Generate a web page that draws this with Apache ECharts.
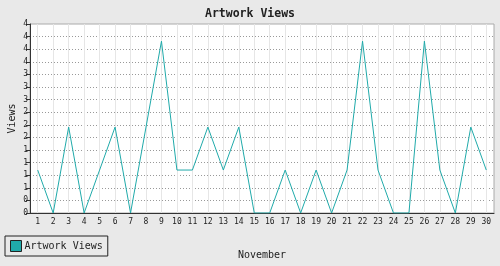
<!DOCTYPE html>
<html><head><meta charset="utf-8">
<script src="https://cdn.jsdelivr.net/npm/echarts@6/dist/echarts.min.js"></script>
<style>html,body{margin:0;padding:0;background:#e9e9e9}#c{width:500px;height:266px}</style>
</head><body><div id="c"></div>
<script>
const days = ['1','2','3','4','5','6','7','8','9','10','11','12','13','14','15','16','17','18','19','20','21','22','23','24','25','26','27','28','29','30'];
const views = [1,0,2,0,1,2,0,2,4,1,1,2,1,2,0,0,1,0,1,0,1,4,1,0,0,4,1,0,2,1];
const seriesName = 'Artwork Views';
const yMax = 4.4;
const ySteps = 15;

const mono = 'DejaVu Sans Mono';
const chart = echarts.init(document.getElementById('c'));
chart.setOption({
  animation: false,
  backgroundColor: '#e9e9e9',
  title: {text: 'Artwork Views', left: 'center', top: 3,
    textStyle: {fontFamily: mono, fontSize: 11.5, fontWeight: 'bold', color: '#222'}},
  legend: {left: 5, top: 236, padding: [4, 5], borderColor: '#222', borderWidth: 1,
    itemWidth: 11, itemHeight: 11, icon: 'rect', itemGap: 4,
    textStyle: {fontFamily: mono, fontSize: 10, color: '#222', padding: [0, 0, 0, -2]},
    data: [{name: seriesName, itemStyle: {color: '#20aaaa', borderColor: '#222', borderWidth: 1}}]},
  grid: {left: 30, right: 6, top: 24, bottom: 53, show: true, backgroundColor: '#fff',
    borderColor: '#aaa', borderWidth: 1, containLabel: false, outerBoundsMode: 'none'},
  xAxis: [
    {type: 'value', min: 0.5, max: days.length + 0.5, interval: 1, position: 'bottom',
      axisLine: {show: false}, axisTick: {show: false}, axisLabel: {show: false},
      splitLine: {show: false},
      minorTick: {show: false, splitNumber: 2},
      minorSplitLine: {show: true, lineStyle: {color: '#e6e6e6', width: 1}}},
    {type: 'category', data: days, boundaryGap: true, position: 'bottom',
      name: 'November', nameLocation: 'middle', nameGap: 37, nameMoveOverlap: false,
      nameTextStyle: {fontFamily: mono, fontSize: 10, color: '#222'},
      axisLine: {lineStyle: {color: '#333', width: 1}},
      axisTick: {alignWithLabel: true, length: 4, lineStyle: {color: '#333'}},
      axisLabel: {fontFamily: mono, fontSize: 8, color: '#222', margin: 5, interval: 0},
      splitLine: {show: false}}
  ],
  yAxis: {type: 'value', min: 0, max: yMax, interval: yMax / ySteps,
    name: 'Views', nameLocation: 'middle', nameGap: 13, nameRotate: 90, nameMoveOverlap: false,
    nameTextStyle: {fontFamily: mono, fontSize: 10, color: '#222'},
    axisLine: {show: true, lineStyle: {color: '#333', width: 1}},
    axisTick: {show: true, length: 4, lineStyle: {color: '#333'}},
    axisLabel: {fontFamily: mono, fontSize: 8, color: '#222', margin: 2,
      formatter: v => String(Math.round(v))},
    splitLine: {show: true, showMaxLine: false, lineStyle: {color: '#999', type: [1, 2], width: 1}}},
  series: [{name: seriesName, type: 'line', xAxisIndex: 1, data: views, symbol: 'none',
    lineStyle: {color: '#20aaaa', width: 1}, itemStyle: {color: '#20aaaa'}}]
});
</script></body></html>
